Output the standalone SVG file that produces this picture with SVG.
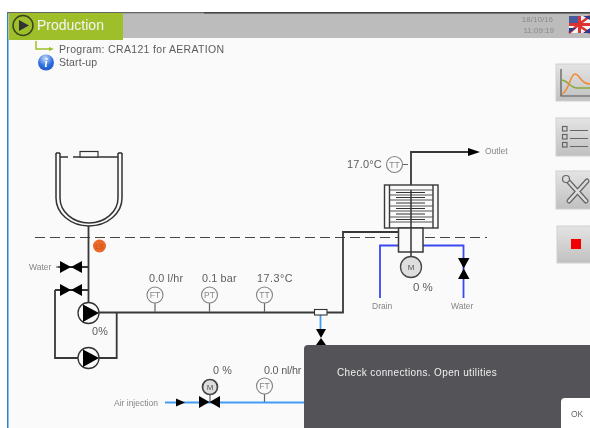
<svg xmlns="http://www.w3.org/2000/svg" width="590" height="428" viewBox="0 0 590 428">
<style>
text{font-family:"Liberation Sans",Arial,sans-serif;fill:#5c5c5c}
.p{fill:none;stroke:#383838;stroke-width:1.8}
.b{fill:none;stroke:#3a48f0;stroke-width:1.8}
.a{fill:none;stroke:#3f9cf5;stroke-width:1.8}
.k{fill:#000;stroke:none}
.v{font-size:10.8px;letter-spacing:.15px}
.l{font-size:8.5px;fill:#858585}
.i{fill:#fafafa;stroke:#808080;stroke-width:1.1}
.it{font-size:8.5px;fill:#858585;text-anchor:middle}
.s{stroke:#666;stroke-width:1.200;fill:none}
.t{fill:none;stroke:#333;stroke-width:1.500}
.btn{fill:url(#bg);stroke:#d0d0d0;stroke-width:1}
</style>
<defs>
<linearGradient id="bg" x1="0" y1="0" x2="0" y2="1"><stop offset="0" stop-color="#e4e4e4"/><stop offset="1" stop-color="#c0c0c0"/></linearGradient>
<radialGradient id="ib" cx=".45" cy=".25" r=".85"><stop offset="0" stop-color="#c5dcfa"/><stop offset=".55" stop-color="#2f6fe0"/><stop offset="1" stop-color="#1d50c0"/></radialGradient>
<filter id="soft" x="0" y="0" width="100%" height="100%"><feGaussianBlur stdDeviation="0.4"/></filter>
</defs>
<rect width="590" height="428" fill="#fff"/>
<g filter="url(#soft)">
<rect x="8" y="13" width="582" height="415" fill="#fafafa"/>
<rect x="7" y="13" width="1.500" height="415" fill="#2a86c8"/>
<rect x="8" y="13" width="582" height="25" fill="#bcbcbc"/>
<rect x="7" y="12" width="583" height="1.300" fill="#666"/>
<rect x="204" y="12" width="386" height="1.500" fill="#444"/>

<g id="header">
<rect x="9" y="13" width="114" height="27" fill="#9fbf2c"/>
<circle cx="23" cy="25.500" r="10" fill="none" stroke="#3a4420" stroke-width="1.500"/>
<path d="M19 20 L29 25.500 L19 31 Z" fill="#333"/>
<text x="37" y="30" font-size="14" style="fill:#f5f5f5">Production</text>
<path d="M36 41 V49 H50" fill="none" stroke="#9fbf2c" stroke-width="1.500"/>
<path d="M49 47 L54 49 L49 51 Z" fill="#9fbf2c"/>
<text x="59" y="53" font-size="10.5" letter-spacing=".33">Program: CRA121 for AERATION</text>
<circle cx="46" cy="62.500" r="8" fill="url(#ib)"/>
<text x="46" y="67" font-size="11.5" font-style="italic" font-weight="700" text-anchor="middle" style="fill:#fff;font-family:'Liberation Serif',serif">i</text>
<text x="59" y="66" font-size="10.5" letter-spacing=".1">Start-up</text>
<text x="553" y="22" font-size="8" text-anchor="end" style="fill:#8a8a8a">18/10/16</text>
<text x="554" y="33" font-size="8" text-anchor="end" style="fill:#8a8a8a">11:09:19</text>
</g>
<g id="flag">
<rect x="569" y="16" width="21" height="17" fill="#f4f4f4"/>
<rect x="569" y="16" width="9" height="9" fill="#4a5a9c"/>
<path d="M578 25 L590 16 M569 33 L578 25 M578 25 L590 33" stroke="#d33" stroke-width="2.500"/>
<rect x="569" y="23" width="21" height="3" fill="#d33"/>
<rect x="578" y="16" width="3" height="17" fill="#d33"/>
<path d="M569 33 L576 28 H569 Z M583 33 L590 28 V33 Z M583 16 H590 V20 Z" fill="#2a3a8c"/>
</g>

<g id="btn-trend">
<rect x="556" y="64" width="36" height="37" class="btn"/>
<path d="M561 69 V96 H590" fill="none" stroke="#555" stroke-width="1.200"/>
<path d="M561 80 C568 80 570 88 577 88 H590" fill="none" stroke="#8aa83a" stroke-width="1.500"/>
<path d="M562 94 C570 90 570 74 575 74 C580 74 580 84 590 84" fill="none" stroke="#f08a30" stroke-width="1.500"/>
</g>
<g id="btn-list">
<rect x="556" y="118" width="36" height="38" class="btn"/>
<g fill="none" stroke="#666" stroke-width="1.200"><rect x="562.500" y="126.500" width="4.500" height="4.500"/><rect x="562.500" y="134.500" width="4.500" height="4.500"/><rect x="562.500" y="142.500" width="4.500" height="4.500"/><path d="M570 130.500 H588 M570 138.500 H588 M570 146.500 H588"/></g>
</g>
<g id="btn-tools">
<rect x="556" y="171" width="36" height="38" class="btn"/>
<path d="M568 181 L586 201 M587 181 L569 201" stroke="#666" stroke-width="5" fill="none" stroke-linecap="round"/>
<path d="M568 181 L586 201 M587 181 L569 201" stroke="#dcdcdc" stroke-width="2.500" fill="none" stroke-linecap="round"/>
<circle cx="566" cy="179" r="3.500" fill="#dcdcdc" stroke="#666" stroke-width="1.200"/>
</g>
<g id="btn-stop">
<rect x="557" y="226" width="35" height="37" class="btn"/>
<rect x="571" y="239" width="10" height="10" fill="#f00000"/>
</g>

<g id="connectors">
<path d="M35 237.500 H487" fill="none" stroke="#444" stroke-width="1.100" stroke-dasharray="10 5"/>
<path class="p" d="M88.500 226 V313 M58 267 H88.500 M55 290 H88.500 M55 290 V358 H78 M98 358 H116.700 V312.500 M98 312.500 H314"/>
<path class="p" d="M327 312.500 H343 V232 H398.500"/>
<path class="a" d="M320.500 315 V330"/>
<path class="a" d="M165 402.500 H305"/>
<path class="p" d="M411 185 V152 H470"/>
<path class="b" d="M423 245.500 H463.500 V298 M398.500 245.500 H380 V298"/>
<path class="s" d="M155 303 V312 M209.500 303 V312 M264.500 303 V312 M264.500 394 V402 M402.500 164.500 H408 M210 395 V402"/>
<path d="M176 398.500 L185 402.500 L176 406.500 Z" class="k"/>
<path d="M468 148 L480 152 L468 156 Z" class="k"/>
</g>

<g id="tank">
<path class="t" d="M56 153 V198 A33 28 0 0 0 122 198 V153"/>
<path class="t" d="M60 153 V198 A29 25 0 0 0 118 198 V153"/>
<path class="t" d="M56 153 H60 M118 153 H122"/>
<path class="t" d="M60 157 H68 M73 157 H118"/>
<rect x="80" y="151.500" width="18" height="5.500" fill="#fafafa" stroke="#333" stroke-width="1.200"/>
</g>
<g id="level-switch">
<circle cx="99.500" cy="246" r="6.500" fill="#e8692a"/>
<text x="99.500" y="249" font-size="7" text-anchor="middle" style="fill:#c65018">LS</text>
</g>
<g id="valve-water">
<text x="29" y="270" class="l">Water</text>
<path d="M56 267 H60" class="s"/>
<path d="M60 261 L82 273 V261 L60 273 Z" class="k"/>
</g>
<g id="valve-recirc">
<path d="M60 284 L82 296 V284 L60 296 Z" class="k"/>
</g>
<g id="pump-1">
<circle cx="88.500" cy="313" r="10.500" fill="#fafafa" stroke="#333" stroke-width="1.300"/>
<path d="M83 304.500 L99 313 L83 322 Z" class="k"/>
<text x="92" y="335" class="v">0%</text>
</g>
<g id="pump-2">
<circle cx="88.500" cy="358" r="10.500" fill="#fafafa" stroke="#333" stroke-width="1.300"/>
<path d="M83 349.500 L99 358 L83 367 Z" class="k"/>
</g>
<g id="ft-1"><circle cx="155" cy="295" r="8" class="i"/><text x="155" y="298" class="it">FT</text><text x="149" y="282" class="v">0.0 l/hr</text></g>
<g id="pt-1"><circle cx="209.500" cy="295" r="8" class="i"/><text x="209.500" y="298" class="it">PT</text><text x="202" y="282" class="v">0.1 bar</text></g>
<g id="tt-1"><circle cx="264.500" cy="295" r="8" class="i"/><text x="264.500" y="298" class="it">TT</text><text x="257" y="282" class="v" style="letter-spacing:.5px">17.3°C</text></g>
<g id="junction">
<rect x="314.500" y="309.500" width="12.500" height="5.500" fill="#fff" stroke="#333" stroke-width="1.100"/>
</g>
<g id="valve-air-check">
<path d="M316 329 H326 L321 338 L326 345 H316 L321 338 Z" class="k"/>
</g>
<g id="air-injection">
<text x="114" y="406" class="l">Air injection</text>
<circle cx="210" cy="387" r="7.500" fill="#ddd" stroke="#444" stroke-width="1.700"/>
<text x="210" y="390" font-size="8" text-anchor="middle" style="fill:#555">M</text>
<path d="M199 396 L220 408 V396 L199 408 Z" class="k"/>
<text x="213" y="374" class="v">0 %</text>
</g>
<g id="ft-2"><circle cx="264.500" cy="386" r="8" class="i"/><text x="264.500" y="389" class="it">FT</text><text x="264" y="374" class="v" style="letter-spacing:-.2px">0.0 nl/hr</text></g>

<g id="heater">
<rect x="384.500" y="185" width="53.500" height="43" fill="#fafafa" stroke="#383838" stroke-width="1.400"/>
<path d="M389.500 185 V228 M433 185 V228" stroke="#383838" stroke-width="1.400"/>
<path d="M389.500 190 H433 M389.500 195 H433 M389.500 200 H433 M389.500 206 H433 M389.500 211 H433 M389.500 217 H433 M389.500 222 H433" stroke="#555" stroke-width="1"/>
<path d="M396 192.500 H425 M396 197.500 H425 M396 203 H425 M396 208.500 H425 M396 214 H425 M396 219.500 H425" stroke="#333" stroke-width="1.100"/>
<rect x="398.500" y="228" width="24.500" height="24" fill="#fafafa" stroke="#383838" stroke-width="1.500"/>
<path d="M411 190 V257" stroke="#333" stroke-width="1.500"/>
</g>
<g id="motor">
<circle cx="411" cy="267" r="10.500" fill="#dedede" stroke="#444" stroke-width="1.300"/>
<text x="411" y="270" font-size="8" text-anchor="middle" style="fill:#555">M</text>
<text x="413" y="291" font-size="11.500">0 %</text>
</g>
<g id="tt-2">
<circle cx="394.500" cy="164.500" r="8" class="i"/><text x="394.500" y="167.500" class="it">TT</text>
<text x="347" y="168" font-size="11" letter-spacing=".2">17.0°C</text>
</g>
<g id="valve-water-2">
<path d="M458 258 H469.500 L458 279 H469.500 Z" class="k"/>
</g>
<text x="372" y="309" class="l">Drain</text>
<text x="451" y="309" class="l">Water</text>
<text x="485" y="154" class="l">Outlet</text>

<g id="dialog">
<path d="M304 428 V349 Q304 345 308 345 H590 V428 Z" fill="#535358"/>
<text x="337" y="376" font-size="10" letter-spacing=".37" style="fill:#f0f0f0">Check connections. Open utilities</text>
<path d="M561 428 V402 Q561 398 565 398 H590 V428 Z" fill="#fff"/>
<text x="571" y="417" font-size="8.500" style="fill:#666">OK</text>
</g>
</g>
</svg>
